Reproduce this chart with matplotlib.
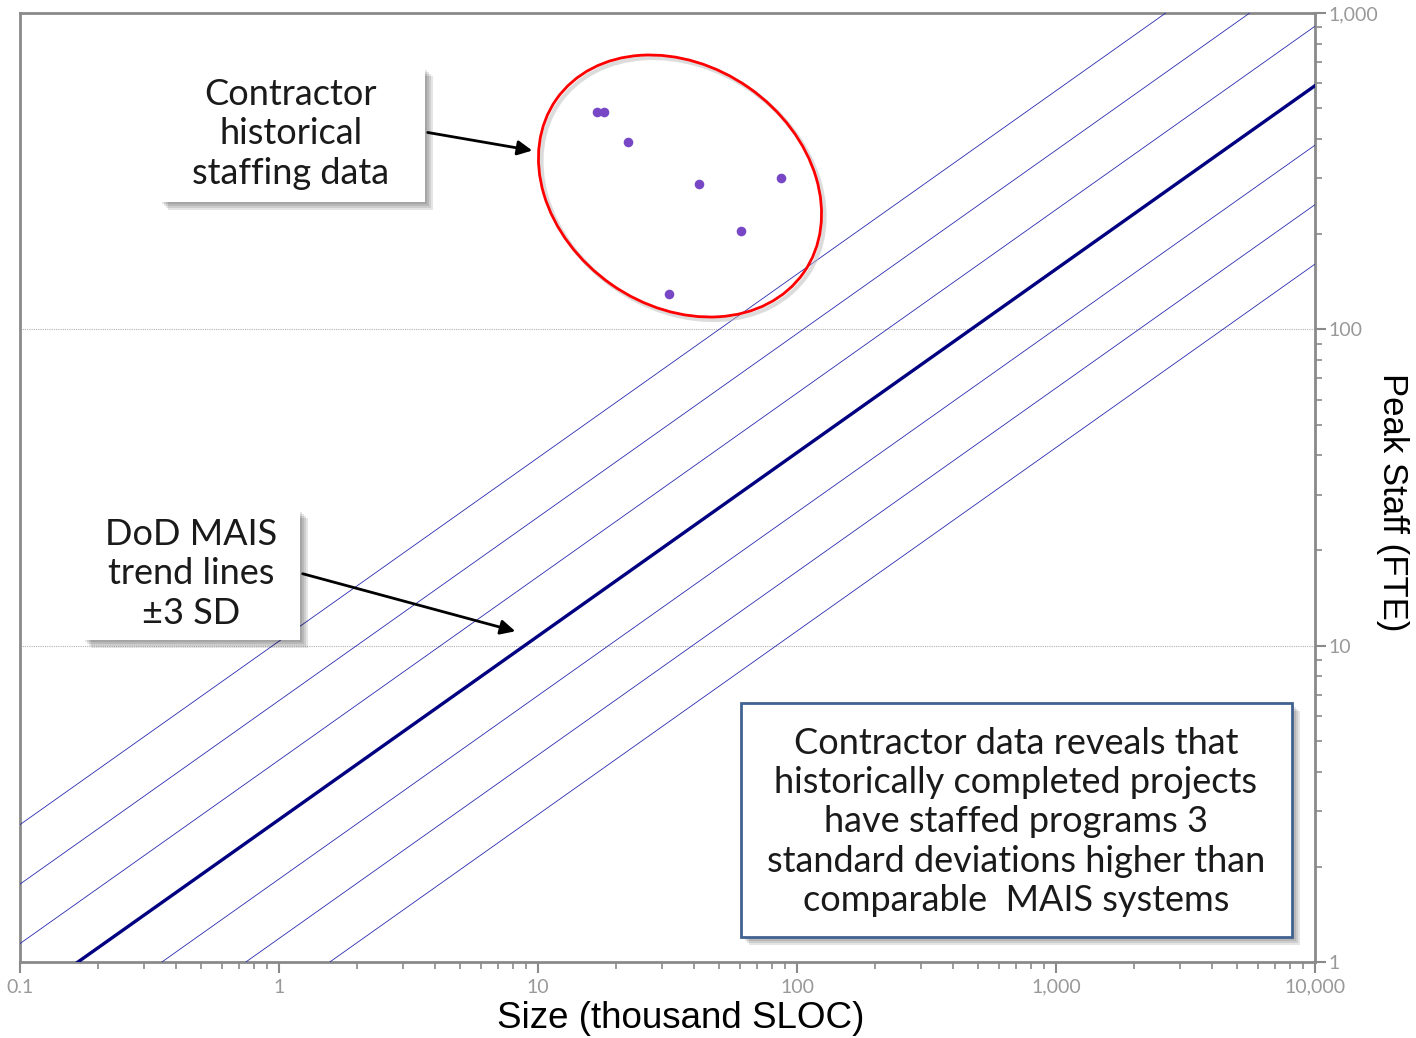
import numpy as np
import matplotlib.pyplot as plt
from matplotlib.patches import Ellipse, Rectangle, FancyArrowPatch
from matplotlib.transforms import Affine2D
from matplotlib.ticker import FixedLocator, FuncFormatter, LogLocator, NullFormatter

# contractor staffing points (size in KSLOC, peak staff in FTE)
size_ksloc = [16.9, 18.0, 22.2, 41.9, 86.7, 60.8, 32.0]
peak_staff = [487, 487, 391, 288, 301, 205, 129]

# DoD MAIS power-law trend: staff = coef * size^expo, with +/- sd in log10
trend_coef = 2.82
trend_expo = 0.58
trend_sd = 0.188
sd_steps = [-3, -2, -1, 1, 2, 3]

x_ticks = [0.1, 1, 10, 100, 1000, 10000]
y_ticks = [1, 10, 100, 1000]

W, H = 1416, 1038
fig = plt.figure(figsize=(W / 100, H / 100), dpi=100)
ax = fig.add_axes([20 / W, 1 - 962 / H, 1295 / W, 949 / H])

# pixel coordinates, origin at top left
px = Affine2D().scale(1 / W, -1 / H).translate(0, 1) + fig.transFigure

grey = '#8a8a8a'
navy = '#000080'

xx = np.array([0.1, 10000])
ax.plot(xx, trend_coef * xx ** trend_expo, color=navy, lw=2.4, zorder=3)
for k in sd_steps:
    yy = trend_coef * xx ** trend_expo * 10 ** (k * trend_sd)
    ax.plot(xx, yy, color='#2a2ab0', lw=0.6, zorder=3)

ax.scatter(size_ksloc, peak_staff, s=48, color='#7747c6', zorder=4, linewidths=0)

ax.set_xscale('log')
ax.set_yscale('log')
ax.set_xlim(0.1, 10000)
ax.set_ylim(1, 1000)

for yv in [10, 100]:
    ax.axhline(yv, color='#b0b0b0', lw=0.8, ls=(0, (1, 1)), zorder=1)

for s in ax.spines.values():
    s.set_color(grey)
    s.set_linewidth(2)

fmt = FuncFormatter(lambda v, p: f'{v:,g}')
ax.xaxis.set_major_locator(FixedLocator(x_ticks))
ax.xaxis.set_major_formatter(fmt)
ax.xaxis.set_minor_locator(LogLocator(base=10, subs=np.arange(2, 10), numticks=20))
ax.xaxis.set_minor_formatter(NullFormatter())
ax.yaxis.set_major_locator(FixedLocator(y_ticks))
ax.yaxis.set_major_formatter(fmt)
ax.yaxis.set_minor_locator(LogLocator(base=10, subs=np.arange(2, 10), numticks=20))
ax.yaxis.set_minor_formatter(NullFormatter())
ax.yaxis.tick_right()
ax.tick_params(which='major', length=8, width=1.5, color=grey, labelcolor='#999999',
               labelsize=14, direction='out', pad=2)
ax.tick_params(axis='x', which='major', pad=4)
ax.tick_params(which='minor', length=5, width=1.2, color=grey, direction='out')
for lab in ax.get_xticklabels() + ax.get_yticklabels():
    lab.set_family('Lato')

ax.set_xlabel('Size (thousand SLOC)', fontsize=26.5, family='Liberation Sans')
ax.xaxis.set_label_coords((681 - 20) / 1295, -(1018 - 962) / 949)
ax.xaxis.label.set_va('center')
ax.yaxis.set_label_position('right')
ax.set_ylabel('Peak Staff (FTE)', fontsize=25, family='Liberation Sans', rotation=-90)
ax.yaxis.set_label_coords((1393 - 20) / 1295, 1 - (502 - 13) / 949)
ax.yaxis.label.set_va('center')
ax.yaxis.label.set_ha('center')


def shadow_box(x0, y0, x1, y1, edge=None):
    # soft drop shadow built from a few offset translucent layers
    for i, a in enumerate([0.10, 0.10, 0.10, 0.10]):
        d = 2 + 2 * i
        fig.add_artist(Rectangle((x0 + d, y0 + d), x1 - x0, y1 - y0, transform=px,
                                 facecolor='black', edgecolor='none', alpha=a, zorder=5))
    fig.add_artist(Rectangle((x0, y0), x1 - x0, y1 - y0, transform=px,
                             facecolor='white', edgecolor=edge or 'none',
                             lw=2 if edge else 0, zorder=6))


box_font = dict(family='Lato', fontsize=26, ha='center', va='center',
                zorder=7, linespacing=1.24, color='#1a1a1a', transform=px)

shadow_box(160, 68, 425, 202)
fig.text(291, 134, 'Contractor\nhistorical\nstaffing data', **box_font)

shadow_box(83, 510, 300, 640)
fig.text(191, 574, 'DoD MAIS\ntrend lines\n\u00b13 SD', **box_font)

shadow_box(741, 703, 1292, 937, edge='#41628f')
fig.text(1016, 822, 'Contractor data reveals that\nhistorically completed projects\n'
         'have staffed programs 3\nstandard deviations higher than\ncomparable  MAIS systems',
         **box_font)

# red ring round the contractor points
fig.add_artist(Ellipse((683, 189), 302, 240, angle=35, transform=px, fill=False,
                       edgecolor='#bbbbbb', lw=3, alpha=0.5, zorder=5))
fig.add_artist(Ellipse((680, 186), 302, 240, angle=35, transform=px, fill=False,
                       edgecolor='#ff0000', lw=2, zorder=6))

for a, b in [((425, 132), (535, 151)), ((300, 573), (518, 632))]:
    fig.add_artist(FancyArrowPatch(a, b, transform=px, arrowstyle='-|>',
                                   mutation_scale=22, lw=2, color='black', zorder=7))

fig.savefig('out.png', dpi=100, facecolor='white')
